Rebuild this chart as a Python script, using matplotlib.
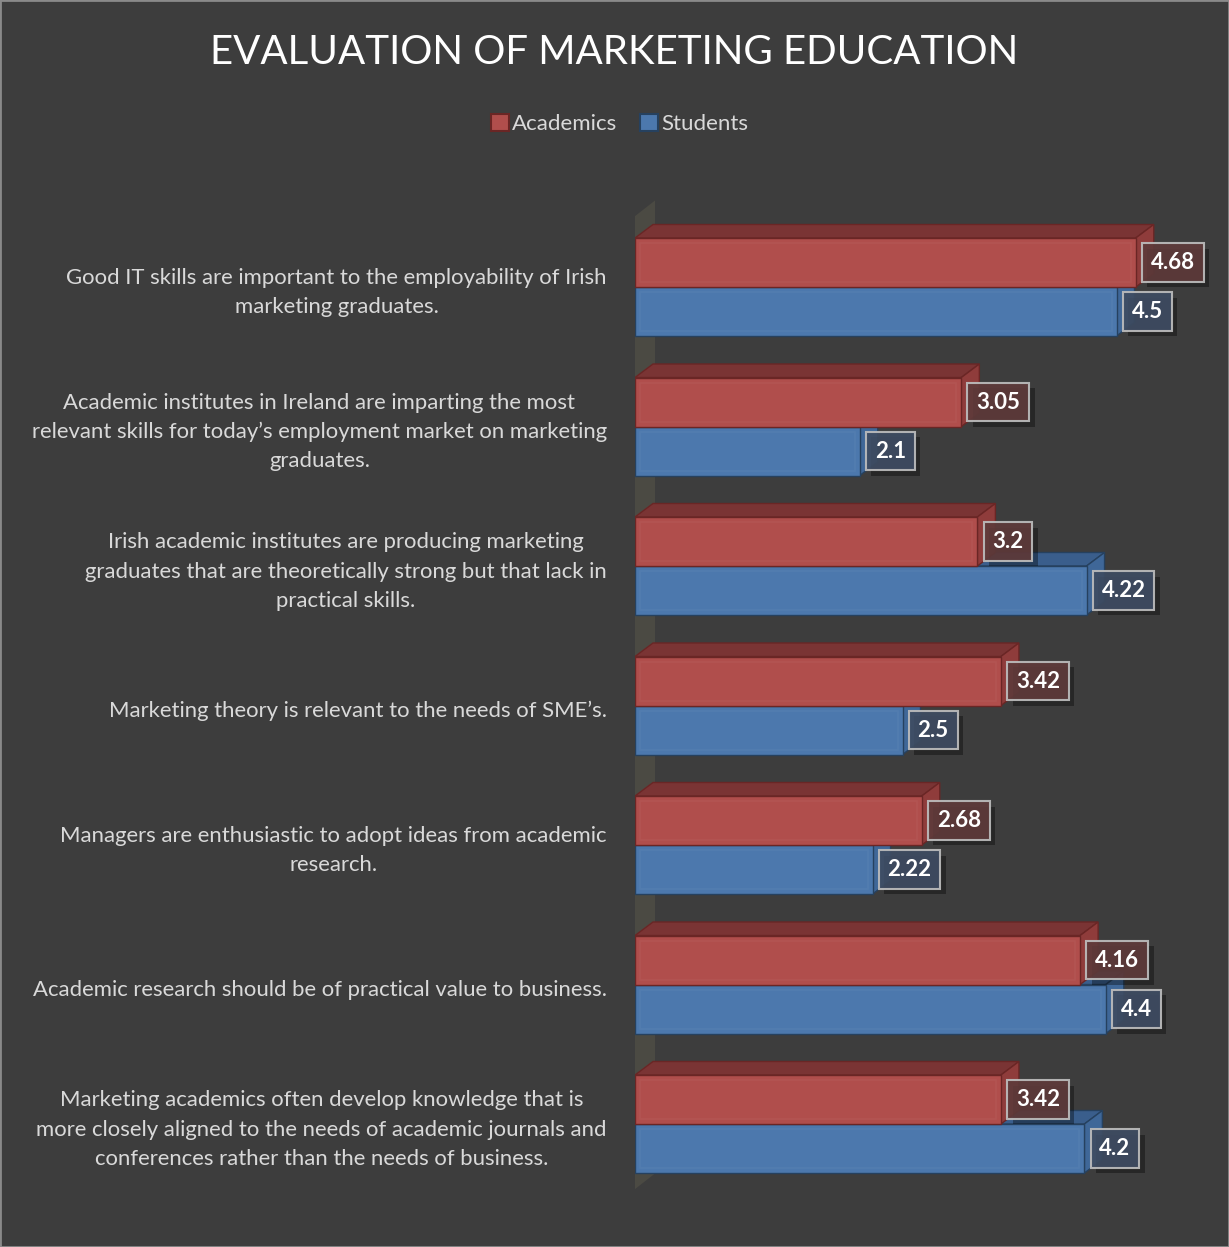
import numpy as np
import matplotlib
matplotlib.use("Agg")
import matplotlib.pyplot as plt
from matplotlib.patches import Polygon, Patch, Rectangle
import matplotlib.patheffects as pe

plt.rcParams['font.family'] = ['Lato', 'DejaVu Sans']

categories = [
    "Good IT skills are important to the employability of Irish\nmarketing graduates.",
    "Academic institutes in Ireland are imparting the most\nrelevant skills for today\u2019s employment market on marketing\ngraduates.",
    "Irish academic institutes are producing marketing\ngraduates that are theoretically strong but that lack in\npractical skills.",
    "Marketing theory is relevant to the needs of SME\u2019s.",
    "Managers are enthusiastic to adopt ideas from academic\nresearch.",
    "Academic research should be of practical value to business.",
    "Marketing academics often develop knowledge that is\nmore closely aligned to the needs of academic journals and\nconferences rather than the needs of business.",
]
academics = [4.68, 3.05, 3.2, 3.42, 2.68, 4.16, 3.42]
students = [4.5, 2.1, 4.22, 2.5, 2.22, 4.4, 4.2]
series_names = ["Academics", "Students"]

BG = "#3d3d3d"
RED = dict(front="#b04e4c", top="#7a3434", side="#8f3c3b", edge="#6a2625", box="#5e3a3a")
BLUE = dict(front="#4c78ad", top="#3a5e8c", side="#3f6798", edge="#26415f", box="#3e4c62")
TEXT = "#d9d9d9"

W, H = 1229, 1247
fig = plt.figure(figsize=(W / 100, H / 100), dpi=100, facecolor=BG)

# plot area: zero line at x=635px, 107 px per unit, 139.5 px per category
x0_px, unit_px, step_px, first_px = 635, 107.0, 139.5, 287.0
xmax = (W - x0_px) / unit_px
ytop, ybot = -0.65, len(categories) - 1 + 0.65
top_px = first_px + ytop * step_px
bot_px = first_px + ybot * step_px
ax = fig.add_axes([x0_px / W, 1 - bot_px / H, (W - x0_px) / W, (bot_px - top_px) / H])
ax.set_facecolor(BG)
ax.set_xlim(0, xmax)
ax.set_ylim(ybot, ytop)
ax.axis("off")

px_x = 1 / unit_px
px_y = 1 / step_px
bar_h = 49 * px_y
DX, DY = 18 * px_x, -13.5 * px_y   # bar depth offset


def draw_bar(y0, y1, v, c):
    top = [(0, y0), (v, y0), (v + DX, y0 + DY), (DX, y0 + DY)]
    side = [(v, y0), (v, y1), (v + DX, y1 + DY), (v + DX, y0 + DY)]
    front = [(0, y0), (v, y0), (v, y1), (0, y1)]
    ax.add_patch(Polygon(top, closed=True, fc=c["top"], ec=c["edge"], lw=1, zorder=3))
    ax.add_patch(Polygon(side, closed=True, fc=c["side"], ec=c["edge"], lw=1, zorder=3))
    ax.add_patch(Polygon(front, closed=True, fc=c["front"], ec=c["edge"], lw=1, zorder=3))
    # faint inner bevel
    ix, iy = 5 * px_x, 5 * px_y
    ax.add_patch(Rectangle((ix, y0 + iy), v - 2 * ix, (y1 - y0) - 2 * iy, fill=False,
                           ec="white", alpha=0.035, lw=1.2, zorder=3))


def value_box(v, yc, c):
    t = ax.text(v + 15 * px_x, yc, f"{v:g}", ha="left", va="center", color="white",
                fontsize=16, fontweight="bold", zorder=6,
                bbox=dict(boxstyle="square,pad=0.4", fc=c["box"], ec="#bdbdbd", lw=1.5, alpha=0.92))
    t.get_bbox_patch().set_path_effects([
        pe.SimplePatchShadow(offset=(4, -4), shadow_rgbFace="black", alpha=0.35),
        pe.Normal()])


# side wall at the value axis
n = len(categories)
wall_front = -5 * px_x
wy0 = (220 - first_px) * px_y
wy1 = (1193 - first_px) * px_y
wdx, wdy = 25 * px_x, -19.5 * px_y
ax.add_patch(Polygon([(wall_front, wy0), (wall_front + wdx, wy0 + wdy),
                      (wall_front + wdx, wy1 + wdy), (wall_front, wy1)],
                     closed=True, fc="#4b4a43", ec="none", zorder=1))

for i in range(n):
    a, s = academics[i], students[i]
    draw_bar(i, i + bar_h, s, BLUE)
    draw_bar(i - bar_h, i, a, RED)
    value_box(a, i - bar_h / 2, RED)
    value_box(s, i + bar_h / 2, BLUE)
    ax.text(-28 * px_x, i + 5.5 * px_y, categories[i], ha="right", va="center",
            multialignment="center", color=TEXT, fontsize=15.9, linespacing=1.57,
            clip_on=False)

fig.text(0.5, 1 - 53 / H, "EVALUATION OF MARKETING EDUCATION", ha="center", va="center",
         color="white", fontsize=29)

handles = [Patch(fc=RED["front"], ec=RED["edge"], lw=1.5),
           Patch(fc=BLUE["front"], ec=BLUE["edge"], lw=1.5)]
fig.legend(handles, series_names, loc="center", bbox_to_anchor=(0.5 + 5 / W, 1 - 124 / H), ncol=2,
           frameon=False, fontsize=16, labelcolor=TEXT, handlelength=0.8, handleheight=0.8,
           handletextpad=0.15, columnspacing=1.0)

fig.add_artist(Rectangle((0, 0), 1, 1, transform=fig.transFigure, fill=False,
                         ec="#8a8a8a", lw=2))

fig.savefig("out.png", dpi=100, facecolor=BG)
